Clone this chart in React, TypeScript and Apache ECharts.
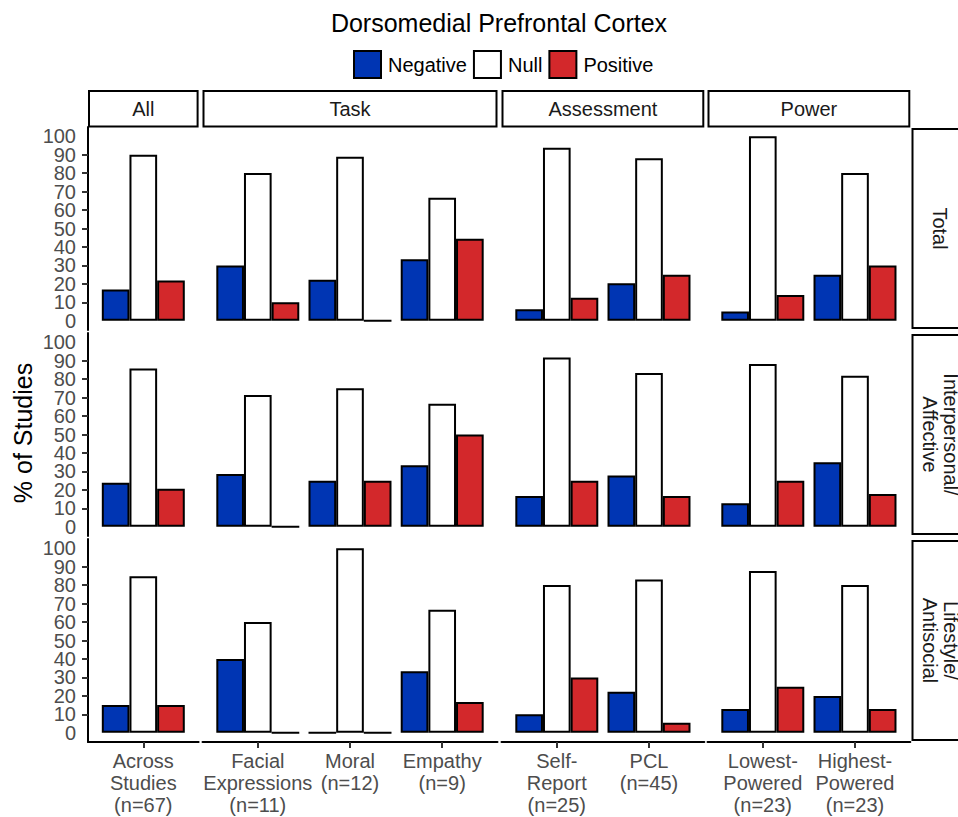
import React, { useEffect, useRef } from "react";
import * as echarts from "echarts";

// ---- data ----
const columnGroups = ["All", "Task", "Assessment", "Power"];
const groupSizes = [1, 3, 2, 2];
const categories = [
  "Across\nStudies\n(n=67)",
  "Facial\nExpressions\n(n=11)",
  "Moral\n(n=12)",
  "Empathy\n(n=9)",
  "Self-\nReport\n(n=25)",
  "PCL\n(n=45)",
  "Lowest-\nPowered\n(n=23)",
  "Highest-\nPowered\n(n=23)",
];
const rowLabels = ["Total", "Interpersonal/\nAffective", "Lifestyle/\nAntisocial"];
const seriesNames = ["Negative", "Null", "Positive"];

const totalNegative = [17, 30, 22.2, 33.3, 6.3, 20.4, 5, 25];
const totalNull = [90, 80, 88.9, 66.7, 93.8, 88, 100, 80];
const totalPositive = [21.8, 10, 0, 44.4, 12.5, 24.9, 14, 30];

const interNegative = [23.8, 28.6, 25, 33.3, 16.7, 27.8, 12.7, 35];
const interNull = [85.8, 71.4, 75, 66.7, 91.7, 83.3, 88.2, 81.8];
const interPositive = [20.6, 0, 25, 50, 25, 16.7, 25, 17.8];

const lifeNegative = [15.1, 40, 0, 33.3, 10, 22.3, 12.9, 20];
const lifeNull = [84.8, 60, 100, 66.7, 80, 83, 87.7, 80];
const lifePositive = [15.1, 0, 0, 16.7, 30, 5.4, 25, 12.9];

const yTicksMin = 0;
const yTicksMax = 100;
const yTickInterval = 10;
const yEndLabels = [0, 100];

const rowData = [
  [totalNegative, totalNull, totalPositive],
  [interNegative, interNull, interPositive],
  [lifeNegative, lifeNull, lifePositive],
];

const COLORS = ["#0035B3", "#FFFFFF", "#D3282B"];
const FONT = "Liberation Sans, Arial, Helvetica, sans-serif";

export default function App() {
  const ref = useRef<HTMLDivElement>(null);

  useEffect(() => {
    if (!ref.current) return;
    const chart = echarts.init(ref.current, undefined, { renderer: "svg" });

    // layout
    const k = 92.2; // px per category
    const padX = 9.2;
    const padY = 9.2;
    const colLeft = [88, 202.5, 501.5, 707.5];
    const colWidth = groupSizes.map((n) => n * k + 2 * padX);
    const panelTop = [127, 333, 539];
    const panelH = 203;
    // value expansion (5% of the 0..100 range) on each side of a panel
    const expand = (padY / (panelH - 2 * padY)) * (yTicksMax - yTicksMin);

    const labelStyle = {
      color: "#4D4D4D",
      fontSize: 20,
      lineHeight: 12,
      height: 12,
      fontFamily: FONT,
    };

    const grids: any[] = [];
    const xAxes: any[] = [];
    const yAxes: any[] = [];
    const series: any[] = [];
    const graphics: any[] = [];

    const startIdx: number[] = [];
    let acc = 0;
    groupSizes.forEach((n) => {
      startIdx.push(acc);
      acc += n;
    });

    // bar grids
    for (let r = 0; r < 3; r++) {
      for (let c = 0; c < 4; c++) {
        const gi = grids.length;
        grids.push({
          left: colLeft[c] + padX,
          top: panelTop[r] + padY,
          width: groupSizes[c] * k,
          height: panelH - 2 * padY,
          outerBoundsMode: "none",
          containLabel: false,
        });
        const cats = categories.slice(startIdx[c], startIdx[c] + groupSizes[c]);
        const bottom = r === 2;
        xAxes.push({
          type: "category",
          gridIndex: gi,
          data: cats,
          offset: padY,
          axisLine: { show: false, onZero: false },
          axisTick: {
            show: bottom,
            alignWithLabel: true,
            length: 6,
            lineStyle: { color: "#333333", width: 2 },
          },
          axisLabel: {
            show: bottom,
            interval: 0,
            margin: 8,
            color: "#4D4D4D",
            fontSize: 20,
            lineHeight: 22,
            fontFamily: FONT,
            verticalAlign: "top",
          },
          splitLine: { show: false },
        });
        yAxes.push({
          type: "value",
          gridIndex: gi,
          min: yTicksMin,
          max: yTicksMax,
          interval: yTickInterval,
          show: c === 0,
          offset: padX,
          axisLine: { show: false, onZero: false },
          axisTick: {
            show: true,
            length: 6,
            lineStyle: { color: "#333333", width: 2 },
          },
          axisLabel: {
            show: true,
            showMinLabel: false,
            showMaxLabel: false,
            margin: 12,
            formatter: "{v|{value}}",
            rich: { v: labelStyle },
          },
          splitLine: { show: false },
        });
        for (let s = 0; s < 3; s++) {
          series.push({
            type: "bar",
            name: seriesNames[s],
            xAxisIndex: gi,
            yAxisIndex: gi,
            data: rowData[r][s].slice(startIdx[c], startIdx[c] + groupSizes[c]),
            barWidth: "30%",
            barGap: "0%",
            itemStyle: {
              color: COLORS[s],
              borderColor: "#000000",
              borderWidth: 2,
            },
            emphasis: { disabled: true },
          });
        }
      }
    }

    // frame grids (axis lines spanning whole panels, plus 0 / 100 labels)
    for (let r = 0; r < 3; r++) {
      for (let c = 0; c < 4; c++) {
        const gi = grids.length;
        grids.push({
          left: colLeft[c],
          top: panelTop[r],
          width: colWidth[c],
          height: panelH,
          outerBoundsMode: "none",
          containLabel: false,
        });
        xAxes.push({
          type: "category",
          gridIndex: gi,
          data: [""],
          axisLine: {
            show: r === 2,
            onZero: false,
            lineStyle: { color: "#000000", width: 2 },
          },
          axisTick: { show: false },
          axisLabel: { show: false },
          splitLine: { show: false },
        });
        yAxes.push({
          type: "value",
          gridIndex: gi,
          min: yTicksMin - expand,
          max: yTicksMax + expand,
          axisLine: {
            show: c === 0,
            onZero: false,
            lineStyle: { color: "#000000", width: 2 },
          },
          axisTick: { show: false },
          axisLabel: {
            show: c === 0,
            customValues: yEndLabels,
            showMinLabel: true,
            showMaxLabel: true,
            margin: 12,
            formatter: "{v|{value}}",
            rich: { v: labelStyle },
          },
          splitLine: { show: false },
        });
      }
    }

    // title
    graphics.push({
      type: "text",
      x: 499,
      y: 23,
      style: {
        text: "Dorsomedial Prefrontal Cortex",
        fill: "#000000",
        fontSize: 25,
        fontFamily: FONT,
        align: "center",
        verticalAlign: "middle",
      },
    });
    // y axis title
    graphics.push({
      type: "text",
      x: 23,
      y: 433,
      rotation: Math.PI / 2,
      style: {
        text: "% of Studies",
        fill: "#000000",
        fontSize: 25,
        fontFamily: FONT,
        align: "center",
        verticalAlign: "middle",
      },
    });
    // top strips
    for (let c = 0; c < 4; c++) {
      graphics.push({
        type: "rect",
        shape: { x: colLeft[c] + 1, y: 91, width: colWidth[c] - 2, height: 35.5 },
        style: { fill: "#FFFFFF", stroke: "#000000", lineWidth: 2 },
      });
      graphics.push({
        type: "text",
        x: colLeft[c] + colWidth[c] / 2,
        y: 109,
        style: {
          text: columnGroups[c],
          fill: "#1A1A1A",
          fontSize: 20,
          fontFamily: FONT,
          align: "center",
          verticalAlign: "middle",
        },
      });
    }
    // right strips
    for (let r = 0; r < 3; r++) {
      graphics.push({
        type: "rect",
        shape: { x: 912.5, y: panelTop[r] + 2, width: 60, height: panelH - 4 },
        style: { fill: "#FFFFFF", stroke: "#000000", lineWidth: 2 },
      });
      graphics.push({
        type: "text",
        x: 940,
        y: panelTop[r] + panelH / 2,
        rotation: -Math.PI / 2,
        style: {
          text: rowLabels[r],
          fill: "#1A1A1A",
          fontSize: 20,
          lineHeight: 21,
          fontFamily: FONT,
          align: "center",
          verticalAlign: "middle",
        },
      });
    }

    chart.setOption({
      animation: false,
      backgroundColor: "#FFFFFF",
      legend: {
        data: seriesNames,
        left: 353,
        top: 50,
        padding: 0,
        itemWidth: 27,
        itemHeight: 27,
        itemGap: 6,
        icon: "rect",
        selectedMode: false,
        textStyle: {
          color: "#000000",
          fontSize: 20,
          fontFamily: FONT,
          padding: [0, 0, 0, 2],
        },
      },
      grid: grids,
      xAxis: xAxes,
      yAxis: yAxes,
      series,
      graphic: graphics,
    });

    return () => chart.dispose();
  }, []);

  return (
    <div
      ref={ref}
      style={{ position: "absolute", left: 0, top: 0, width: 958, height: 817 }}
    />
  );
}
